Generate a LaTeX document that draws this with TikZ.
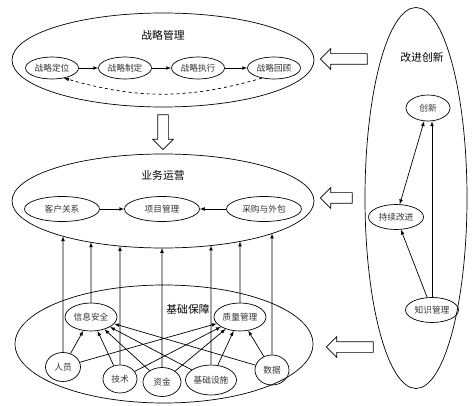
\documentclass[tikz,border=0pt]{standalone}
\usepackage{fontspec}
\setmainfont{Noto Sans CJK SC}
\usetikzlibrary{shapes.geometric,shapes.arrows,intersections}

\begin{document}
\begin{tikzpicture}[x=1pt, y=-1pt, line width=0.7pt, >=latex,
    big/.style={draw, ellipse, inner sep=0pt},
    sub/.style={draw, ellipse, inner sep=0pt, text=black!80, font=\fontsize{8.7}{10}\selectfont},
    ttl/.style={font=\fontsize{10.8}{12}\selectfont},
    fat/.style={draw, single arrow, single arrow head extend=5pt, inner xsep=0pt, inner ysep=5pt, single arrow tip angle=90}]

    \useasboundingbox (0,0) rectangle (474,406);

    \node[big, minimum width=302pt, minimum height=94pt] (M) at (163,60) {};
    \node[ttl] (MT) at (163,35) {战略管理};
    \node[sub, minimum width=53pt, minimum height=22pt] (A1) at (52,68) {战略定位};
    \node[sub, minimum width=53pt, minimum height=22pt] (A2) at (125,68) {战略制定};
    \node[sub, minimum width=53pt, minimum height=22pt] (A3) at (198,68) {战略执行};
    \node[sub, minimum width=53pt, minimum height=22pt] (A4) at (274,68) {战略回顾};
    \draw [->] (A1)--(A2) ;
    \draw [->] (A2)--(A3) ;
    \draw [->] (A3)--(A4) ;
    \draw [->, dashed] (A4.-140) to[bend left=16] (A1.-40) ;

    \node[big, minimum width=302pt, minimum height=94pt] (O) at (163,201) {};
    \node[ttl] (OT) at (163,175) {业务运营};
    \node[sub, minimum width=75pt, minimum height=25pt] (B1) at (62,209) {客户关系};
    \node[sub, minimum width=75pt, minimum height=25pt] (B2) at (162,209) {项目管理};
    \node[sub, minimum width=75pt, minimum height=25pt] (B3) at (264,209) {采购与外包};
    \draw [->] (B1)--(B2) ;
    \draw [->] (B3)--(B2) ;

    \node[big, minimum width=298pt, minimum height=118pt] (J) at (164,344) {};
    \node[ttl] (JT) at (188,309) {基础保障};
    \node[sub, minimum width=52pt, minimum height=28pt] (S1) at (91,317) {信息安全};
    \node[sub, minimum width=52pt, minimum height=28pt] (S2) at (240,317) {质量管理};
    \node[sub, minimum width=35pt, minimum height=29pt] (F1) at (63,367) {人员};
    \node[sub, minimum width=34pt, minimum height=28pt] (F2) at (120,379) {技术};
    \node[sub, minimum width=38pt, minimum height=29pt] (F3) at (162,382) {资金};
    \node[sub, minimum width=51pt, minimum height=30pt] (F4) at (211,380) {基础设施};
    \node[sub, minimum width=34pt, minimum height=30pt] (F5) at (272,370) {数据};
    \foreach \a in {F1,F2,F3,F4,F5}
        \foreach \b in {S1,S2}
            \draw [->] (\a)--(\b) ;

    \path[name path=Oedge] (O.center) ellipse (151pt and 47pt);
    \foreach \n in {F1,S1,F2,F3,F4,S2,F5}{
        \path[name path=up] (\n.north) -- (\n.north |- O.center);
        \draw [->, name intersections={of=up and Oedge}] (\n.north)--(intersection-1) ;
    }

    \node[big, minimum width=102pt, minimum height=381pt] (C) at (416,198) {};
    \node[ttl] (CT) at (422,57) {改进创新};
    \node[sub, minimum width=44pt, minimum height=26pt] (R1) at (428,108) {创新};
    \node[sub, minimum width=55pt, minimum height=25pt] (R2) at (396,217) {持续改进};
    \node[sub, minimum width=53pt, minimum height=25pt] (R3) at (432,310) {知识管理};
    \draw [<->] (R1)--(R2) ;
    \draw [->] (R3)--(R2) ;
    \draw [->] (R3.north)--(R3.north |- R1.south) ;

    \node[fat, inner xsep=5pt, inner ysep=0pt, minimum height=35pt, shape border rotate=270] (D) at (163,129.5) {};
    \node[fat, minimum height=47pt, shape border rotate=180] (L1) at (346.5,59) {};
    \node[fat, minimum height=32pt, shape border rotate=180] (L2) at (339,198) {};
    \node[fat, minimum height=47pt, shape border rotate=180] (L3) at (352.5,347) {};

\end{tikzpicture}
\end{document}
